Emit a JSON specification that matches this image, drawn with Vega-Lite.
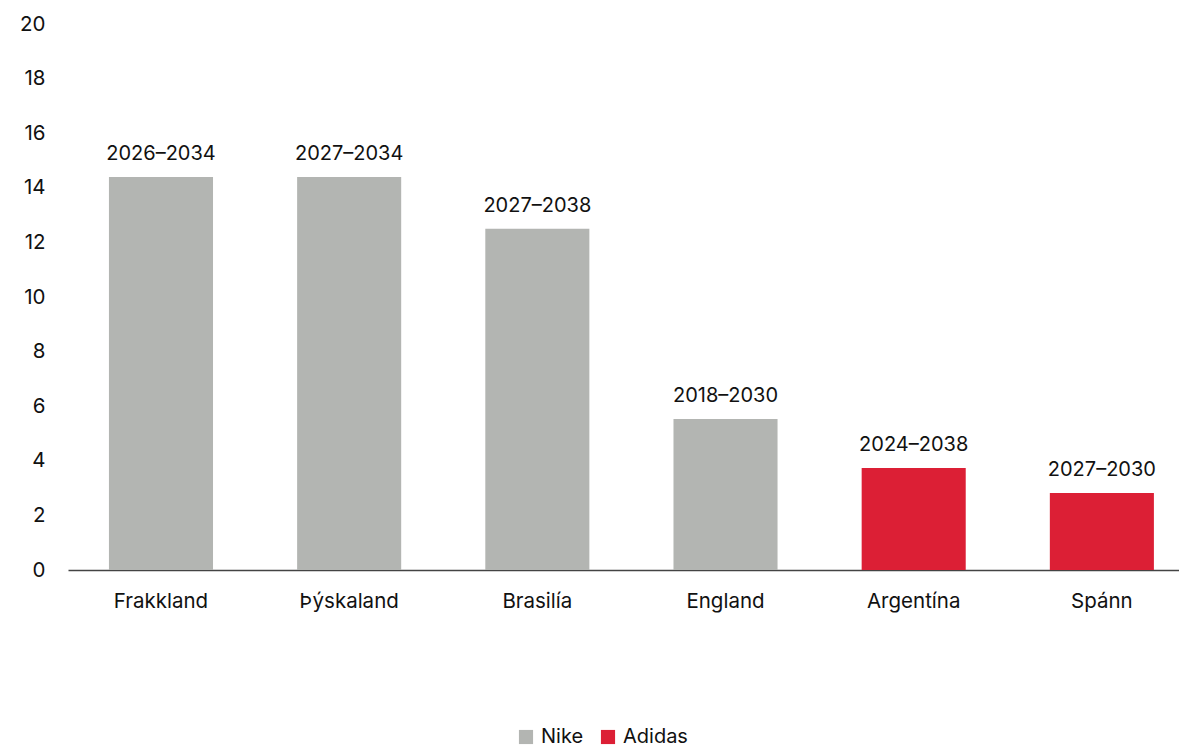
{
  "$schema": "https://vega.github.io/schema/vega-lite/v6.json",
  "width": 1111,
  "height": 546,
  "autosize": "none",
  "padding": {"left": 68, "top": 24, "right": 0, "bottom": 179},
  "config": {
    "view": {"stroke": null},
    "font": "Inter",
    "axis": {"labelFont": "Inter", "labelColor": "#111111", "labelFontSize": 20},
    "legend": {"labelFont": "Inter", "labelFontSize": 20, "labelColor": "#111111"}
  },
  "data": {
    "values": [
      {"land": "Frakkland", "value": 14.4, "period": "2026–2034", "brand": "Nike"},
      {"land": "Þýskaland", "value": 14.4, "period": "2027–2034", "brand": "Nike"},
      {"land": "Brasilía", "value": 12.5, "period": "2027–2038", "brand": "Nike"},
      {"land": "England", "value": 5.53, "period": "2018–2030", "brand": "Nike"},
      {"land": "Argentína", "value": 3.74, "period": "2024–2038", "brand": "Adidas"},
      {"land": "Spánn", "value": 2.82, "period": "2027–2030", "brand": "Adidas"}
    ]
  },
  "encoding": {
    "x": {
      "field": "land", "type": "nominal", "sort": null, "title": null,
      "scale": {"paddingInner": 0.447, "paddingOuter": 0.1755, "align": 0.62},
      "axis": {"labelAngle": 0, "ticks": false, "domainColor": "#444444", "domainWidth": 1.5, "labelPadding": 21, "labelFontSize": 20.5}
    },
    "y": {
      "field": "value", "type": "quantitative", "title": null,
      "scale": {"domain": [0, 20]},
      "axis": {"values": [0, 2, 4, 6, 8, 10, 12, 14, 16, 18, 20], "grid": false, "ticks": false, "domain": false, "labelPadding": 23, "labelFontSize": 20.5}
    }
  },
  "layer": [
    {
      "mark": {"type": "bar"},
      "encoding": {
        "color": {
          "field": "brand", "type": "nominal", "title": null,
          "scale": {"domain": ["Nike", "Adidas"], "range": ["#b3b5b2", "#dc1f35"]},
          "legend": {"orient": "none", "direction": "horizontal", "legendX": 448, "legendY": 703, "symbolType": "square", "symbolSize": 200, "symbolStrokeWidth": 0, "columnPadding": 14, "labelOffset": 5}
        }
      }
    },
    {
      "mark": {"type": "text", "dy": -23, "fontSize": 20, "color": "#111111", "font": "Inter"},
      "encoding": {"text": {"field": "period"}}
    }
  ]
}
